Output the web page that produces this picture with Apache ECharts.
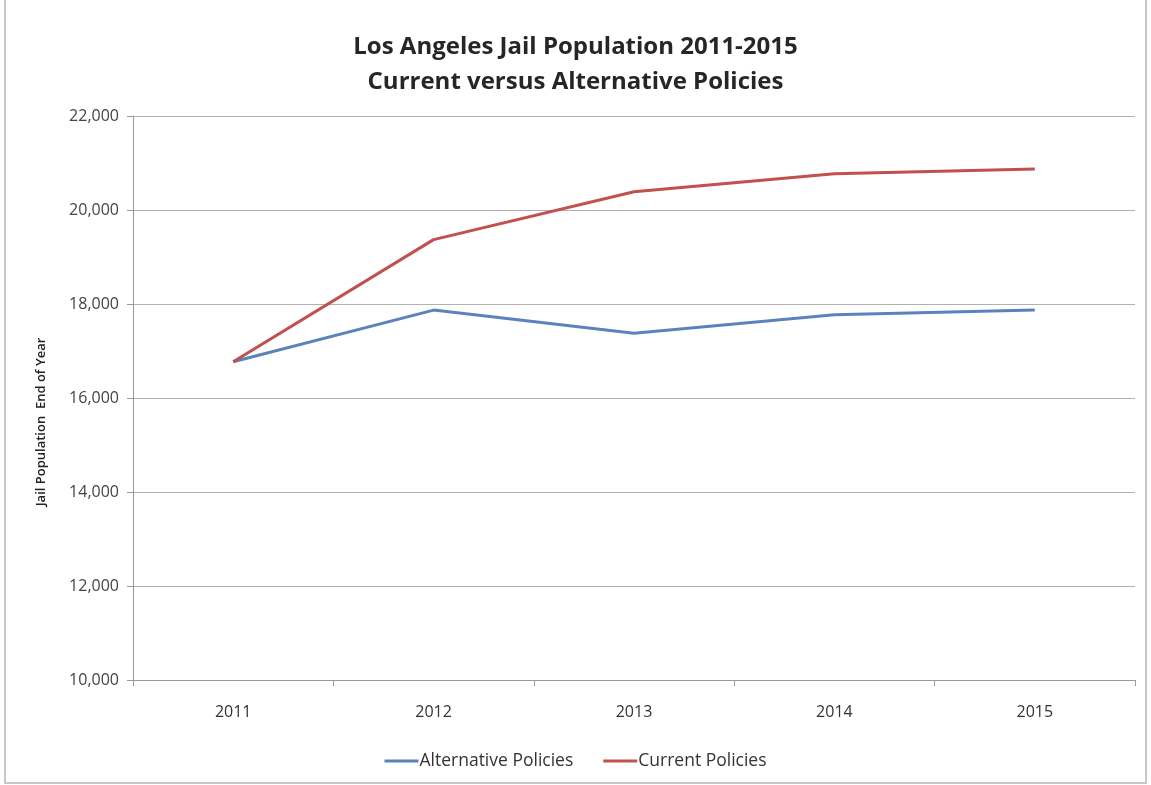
<!DOCTYPE html>
<html>
<head>
<meta charset="utf-8">
<script src="https://cdn.jsdelivr.net/npm/echarts@6/dist/echarts.min.js"></script>
<style>html,body{margin:0;padding:0;background:#fff;}#c{width:1151px;height:785px;}</style>
</head>
<body>
<div id="c"></div>
<script>
const years = ['2011', '2012', '2013', '2014', '2015'];
const alternative = [16770, 17870, 17380, 17770, 17870];
const current = [16770, 19370, 20390, 20770, 20870];
const yAxisTitle = 'Jail Population  End of Year';

const chart = echarts.init(document.getElementById('c'));
chart.setOption({
  animation: false,
  backgroundColor: '#fff',
  graphic: [{
    type: 'rect', shape: {x: 5, y: -2, width: 1141, height: 785},
    style: {fill: 'none', stroke: '#c8c8c8', lineWidth: 2}, silent: true
  }, {
    type: 'text', x: 41, y: 422, rotation: Math.PI / 2, silent: true,
    style: {text: yAxisTitle, align: 'center', verticalAlign: 'middle',
      fontFamily: 'Open Sans', fontWeight: 600, fontSize: 13, fill: '#222'}
  }],
  title: {
    text: 'Los Angeles Jail Population 2011-2015\nCurrent versus Alternative Policies',
    left: 'center', top: 25,
    textStyle: {fontFamily: 'Open Sans', fontWeight: 'bold', fontSize: 24, color: '#262626', lineHeight: 35}
  },
  legend: {
    bottom: 10, left: 'center', itemGap: 30, itemWidth: 34, itemHeight: 3,
    icon: 'rect',
    textStyle: {fontFamily: 'Open Sans', fontSize: 17.5, color: '#333', padding: [0,0,0,-4]},
    data: ['Alternative Policies', 'Current Policies']
  },
  grid: {left: 133, right: 16, top: 116, bottom: 105},
  xAxis: {
    type: 'category', data: years, boundaryGap: true,
    axisLine: {lineStyle: {color: '#999', width: 1}},
    axisTick: {show: true, length: 6, lineStyle: {color: '#999'}},
    axisLabel: {fontFamily: 'Open Sans', fontSize: 16, color: '#333', margin: 24}
  },
  yAxis: {
    type: 'value', min: 10000, max: 22000, interval: 2000,
    axisLine: {show: true, lineStyle: {color: '#999'}},
    axisTick: {show: true, length: 6, lineStyle: {color: '#999'}},
    splitLine: {lineStyle: {color: '#b0b0b0', width: 1}},
    axisLabel: {fontFamily: 'Open Sans', fontSize: 16, color: '#444', margin: 14,
      formatter: v => v.toLocaleString('en-US')}
  },
  series: [
    {name: 'Alternative Policies', type: 'line', data: alternative, symbol: 'none',
     lineStyle: {color: '#5A83BE', width: 3}, itemStyle: {color: '#5A83BE'}},
    {name: 'Current Policies', type: 'line', data: current, symbol: 'none',
     lineStyle: {color: '#C2504D', width: 3}, itemStyle: {color: '#C2504D'}}
  ]
});
</script>
</body>
</html>
